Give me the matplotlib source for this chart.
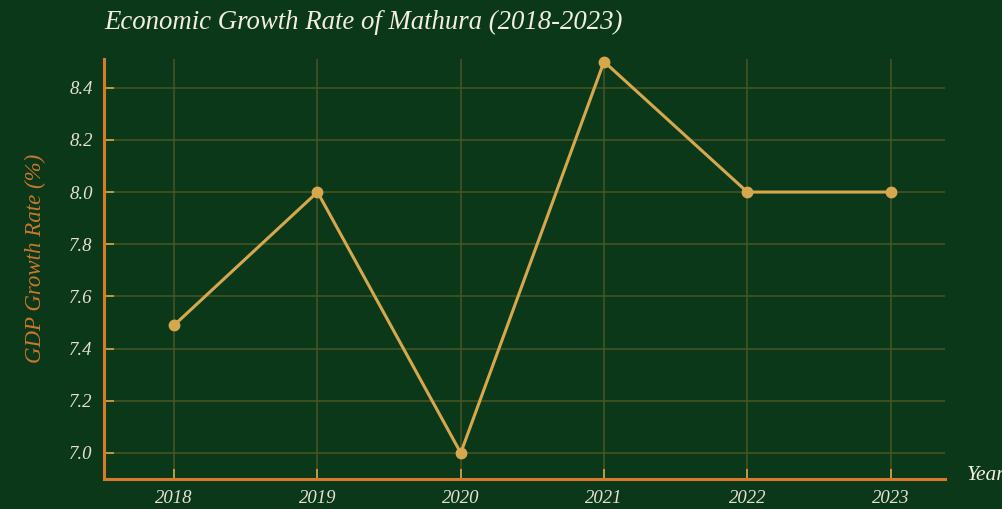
import matplotlib
matplotlib.use("Agg")
import matplotlib.pyplot as plt

years = [2018, 2019, 2020, 2021, 2022, 2023]
growth = [7.49, 8.0, 7.0, 8.5, 8.0, 8.0]
yticks = [7.0, 7.2, 7.4, 7.6, 7.8, 8.0, 8.2, 8.4]

bg = "#0c381a"
fig = plt.figure(figsize=(10.03, 5.09), dpi=100, facecolor=bg)
ax = fig.add_axes([0.1037, 0.0589, 0.8385, 0.8252], facecolor=bg)
font = "Liberation Serif"

ax.plot(years, growth, color="#d6a84e", lw=2.2, marker="o", ms=7.5, zorder=3, clip_on=False)

ax.set_xlim(2017.51, 2023.38)
ax.set_ylim(6.9, 8.51)
ax.set_xticks(years)
ax.set_yticks(yticks)
ax.set_xticklabels([str(y) for y in years], fontstyle="italic", family=font, fontsize=13.5, color="#e6e0d0")
ax.set_yticklabels([f"{v:.1f}" for v in yticks], fontstyle="italic", family=font, fontsize=13.5, color="#e6e0d0")
ax.tick_params(direction="in", length=7, width=1.2, color="#d6a84e", pad=8)
ax.grid(True, color="#4a5625", lw=1.1)
ax.set_axisbelow(True)
for s in ["top", "right"]:
    ax.spines[s].set_visible(False)
for s in ["left", "bottom"]:
    ax.spines[s].set_color("#d9792a")
    ax.spines[s].set_linewidth(2.2)

fig.text(0.1037, 0.955, "Economic Growth Rate of Mathura (2018-2023)", ha="left", va="center",
         fontstyle="italic", family=font, fontsize=19.3, color="#f2eee2")
fig.text(0.035, 0.493, "GDP Growth Rate (%)", rotation=90, ha="center", va="center",
         fontstyle="italic", family=font, fontsize=16.5, color="#c9772f")
fig.text(0.964, 0.065, "Year", ha="left", va="center",
         fontstyle="italic", family=font, fontsize=15.5, color="#f2eee2")

fig.savefig("out.png", dpi=100, facecolor=bg)
